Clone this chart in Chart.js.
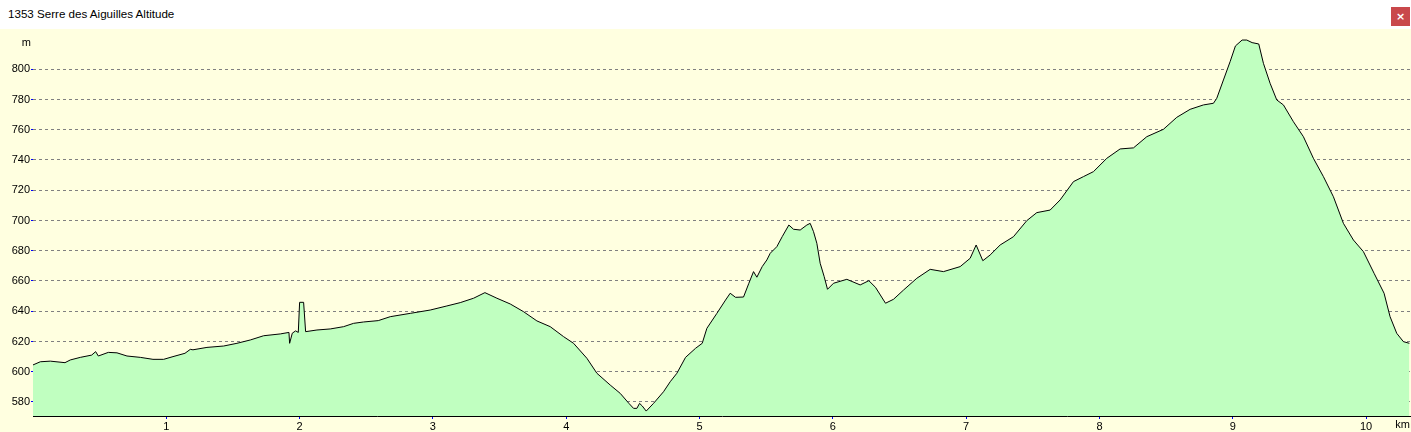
<!DOCTYPE html>
<html>
<head>
<meta charset="utf-8">
<script src="https://cdn.jsdelivr.net/npm/chart.js@4.4.0/dist/chart.umd.min.js"></script>
<style>
  html, body { margin: 0; padding: 0; background: #fff; }
  #wrap { position: relative; width: 1411px; height: 432px; overflow: hidden; }
  #bar { position: absolute; left: 0; top: 0; width: 1411px; height: 29px; background: #fff; }
  #title { position: absolute; left: 8px; top: 7px; font: 11.6px "Liberation Sans", Arial, sans-serif; color: #000; white-space: nowrap; }
  #close { position: absolute; left: 1391px; top: 7px; width: 19px; height: 19px; background: #c9484b; color: #fff; font: bold 11px "DejaVu Sans", sans-serif; text-align: center; line-height: 19px; }
  #plot { position: absolute; left: 0; top: 29px; width: 1411px; height: 403px; background: #ffffe0; }
</style>
</head>
<body>
<div id="wrap">
  <div id="bar">
    <div id="title">1353 Serre des Aiguilles Altitude</div>
    <div id="close">×</div>
  </div>
  <div id="plot"><canvas id="profileChart" width="1411" height="403"></canvas></div>
</div>
<script>
// distance along the track (km) and altitude (m)
const distKm = [
  0.00, 0.055, 0.13, 0.24, 0.28, 0.355, 0.44, 0.47, 0.49, 0.565,
  0.63, 0.705, 0.805, 0.90, 0.98, 1.05, 1.14, 1.18, 1.20, 1.305,
  1.43, 1.53, 1.63, 1.73, 1.855, 1.92, 1.925, 1.945, 1.97, 1.99,
  2.00, 2.03, 2.045, 2.13, 2.23, 2.33, 2.405, 2.48, 2.59, 2.68,
  2.83, 2.98, 3.105, 3.205, 3.305, 3.39, 3.48, 3.58, 3.68, 3.78,
  3.88, 3.98, 4.055, 4.155, 4.23, 4.33, 4.405, 4.47, 4.505, 4.53,
  4.55, 4.57, 4.60, 4.655, 4.73, 4.78, 4.83, 4.895, 4.97, 5.02,
  5.055, 5.13, 5.195, 5.23, 5.27, 5.33, 5.37, 5.405, 5.43, 5.47,
  5.505, 5.53, 5.58, 5.62, 5.67, 5.705, 5.755, 5.805, 5.83, 5.855,
  5.88, 5.905, 5.935, 5.96, 6.005, 6.105, 6.205, 6.27, 6.32, 6.395,
  6.455, 6.53, 6.63, 6.73, 6.83, 6.955, 7.03, 7.075, 7.125, 7.18,
  7.255, 7.355, 7.455, 7.53, 7.63, 7.705, 7.805, 7.88, 7.955, 8.055,
  8.155, 8.255, 8.355, 8.48, 8.58, 8.68, 8.78, 8.855, 8.88, 8.93,
  8.98, 9.02, 9.07, 9.105, 9.145, 9.195, 9.23, 9.28, 9.33, 9.38,
  9.455, 9.53, 9.605, 9.68, 9.755, 9.83, 9.905, 9.98, 10.06, 10.135,
  10.18, 10.23, 10.28, 10.325
];
const altM = [
  604.5, 606.6, 607.0, 606.0, 607.8, 609.5, 611.0, 613.3, 610.4, 612.8,
  612.5, 610.4, 609.5, 608.2, 608.2, 610.0, 612.2, 614.8, 614.5, 616.1,
  617.0, 618.8, 621.0, 623.8, 625.0, 626.0, 618.8, 625.5, 627.0, 626.0,
  645.9, 645.9, 626.5, 627.6, 628.3, 629.8, 632.0, 632.9, 633.8, 636.4,
  638.6, 640.8, 643.5, 645.7, 648.6, 652.3, 648.6, 644.8, 639.7, 633.6,
  629.8, 623.2, 618.8, 608.9, 599.0, 591.2, 585.7, 579.1, 575.8, 575.8,
  579.1, 577.4, 574.0, 579.1, 586.8, 593.4, 599.0, 609.5, 615.5, 618.8,
  628.7, 638.6, 647.4, 651.9, 649.2, 649.4, 658.5, 666.2, 662.5, 669.5,
  673.9, 678.3, 682.7, 689.3, 697.0, 694.2, 693.7, 697.0, 698.1, 692.6,
  684.9, 671.7, 662.9, 654.5, 658.5, 661.1, 657.4, 660.2, 655.8, 645.3,
  647.9, 654.0, 661.8, 667.7, 666.2, 669.5, 675.0, 683.8, 673.4, 677.2,
  683.8, 689.3, 699.9, 705.2, 706.9, 713.6, 725.7, 729.0, 732.3, 741.1,
  747.3, 748.0, 755.4, 760.3, 768.2, 773.5, 776.4, 777.5, 780.8, 792.9,
  805.0, 815.4, 819.3, 819.3, 817.6, 816.7, 803.9, 790.7, 779.7, 776.4,
  765.3, 755.4, 741.1, 729.0, 715.7, 698.1, 687.1, 679.4, 665.1, 651.9,
  636.4, 625.4, 619.9, 618.8
];
const yTicks = [580, 600, 620, 640, 660, 680, 700, 720, 740, 760, 780, 800];
const xTicks = [1, 2, 3, 4, 5, 6, 7, 8, 9, 10];

const tickFont = { family: "Liberation Sans", size: 11 };

const unitLabels = {
    id: "unitLabels",
    afterDraw(chart) {
        const c = chart.ctx;
        c.save();
        c.font = '11px "Liberation Sans"';
        c.fillStyle = "#000";
        c.textBaseline = "middle";
        c.textAlign = "right";
        c.fillText("m", 31, 14);
        c.fillText("km", 1410, 396);
        c.restore();
    }
};

new Chart(document.getElementById("profileChart").getContext("2d"), {
    type: "line",
    data: {
        datasets: [{
            data: distKm.map((d, i) => ({ x: d, y: altM[i] })),
            borderColor: "#000",
            borderWidth: 1,
            backgroundColor: "#c0ffc0",
            fill: "start",
            pointRadius: 0,
            tension: 0
        }]
    },
    options: {
        responsive: false,
        animation: false,
        layout: { padding: 0 },
        plugins: { legend: { display: false }, tooltip: { enabled: false } },
        scales: {
            x: {
                type: "linear",
                min: 0,
                max: 10.337,
                z: 1,
                afterBuildTicks: s => { s.ticks = xTicks.map(v => ({ value: v })) },
                afterFit: s => { s.height = 16; s.paddingLeft = 0; s.paddingRight = 0 },
                grid: { drawOnChartArea: false, drawTicks: true, tickLength: 3, tickColor: "#0000ff", tickWidth: 1 },
                border: { display: true, color: "#000", width: 1 },
                ticks: { color: "#000", font: tickFont, padding: 1, maxRotation: 0, autoSkip: false, callback: v => String(v) }
            },
            y: {
                type: "linear",
                min: 570.74,
                max: 826.6,
                z: 1,
                afterBuildTicks: s => { s.ticks = yTicks.map(v => ({ value: v })) },
                afterFit: s => { s.width = 33; s.paddingTop = 0; s.paddingBottom = 0 },
                grid: { color: "#808080", lineWidth: 1, drawTicks: true, tickLength: 2, tickColor: "#0000ff" },
                border: { display: false, dash: [3, 3] },
                ticks: { color: "#000", font: tickFont, padding: 1, autoSkip: false, callback: v => String(v) }
            }
        }
    },
    plugins: [unitLabels]
});
</script>
</body>
</html>
